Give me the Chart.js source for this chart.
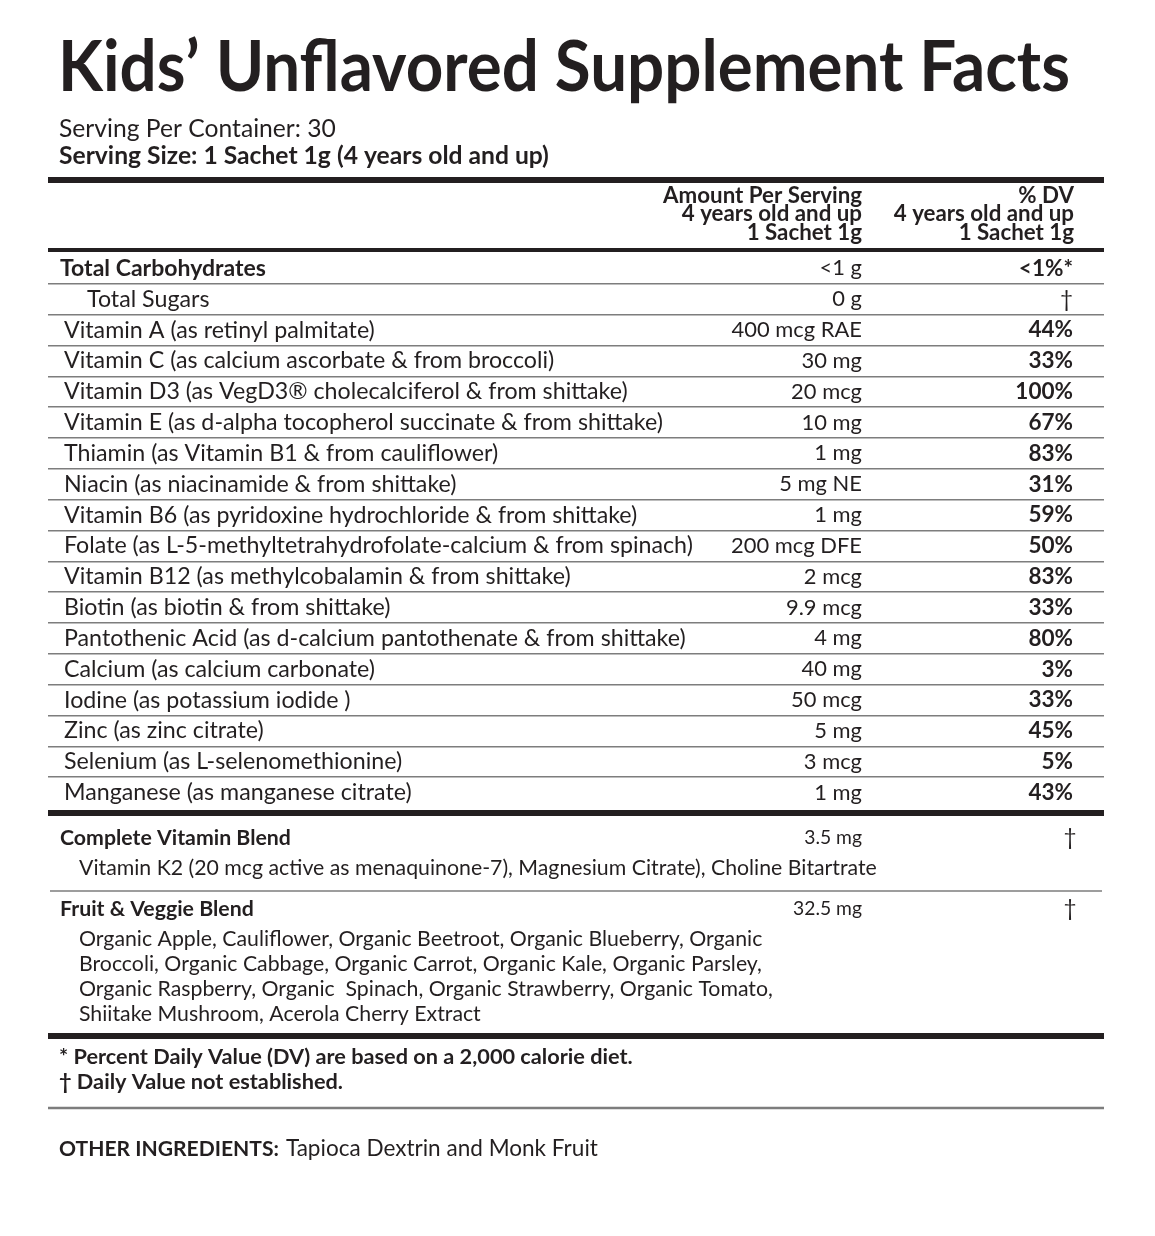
<!DOCTYPE html>
<html><head><meta charset="utf-8">
<script src="https://cdn.jsdelivr.net/npm/chart.js@4"></script>
<style>html,body{margin:0;padding:0;background:#fff}canvas{display:block}</style>
</head><body>
<canvas id="c" width="1155" height="1236"></canvas>
<script>
// ---------- DATA ----------
const title = "Kids\u2019 Unflavored Supplement Facts";
const servingPerContainer = "Serving Per Container: 30";
const servingSize = "Serving Size: 1 Sachet 1g (4 years old and up)";
const amountHeader = ["Amount Per Serving", "4 years old and up", "1 Sachet 1g"];
const dvHeader = ["% DV", "4 years old and up", "1 Sachet 1g"];

const nutrients = [
  "Total Carbohydrates",
  "Total Sugars",
  "Vitamin A (as retinyl palmitate)",
  "Vitamin C (as calcium ascorbate & from broccoli)",
  "Vitamin D3 (as VegD3\u00AE cholecalciferol & from shittake)",
  "Vitamin E (as d-alpha tocopherol succinate & from shittake)",
  "Thiamin (as Vitamin B1 & from cauliflower)",
  "Niacin (as niacinamide & from shittake)",
  "Vitamin B6 (as pyridoxine hydrochloride & from shittake)",
  "Folate (as L-5-methyltetrahydrofolate-calcium & from spinach)",
  "Vitamin B12 (as methylcobalamin & from shittake)",
  "Biotin (as biotin & from shittake)",
  "Pantothenic Acid (as d-calcium pantothenate & from shittake)",
  "Calcium (as calcium carbonate)",
  "Iodine (as potassium iodide )",
  "Zinc (as zinc citrate)",
  "Selenium (as L-selenomethionine)",
  "Manganese (as manganese citrate)"
];
const amounts = ["<1 g", "0 g", "400 mcg RAE", "30 mg", "20 mcg", "10 mg", "1 mg", "5 mg NE", "1 mg",
  "200 mcg DFE", "2 mcg", "9.9 mcg", "4 mg", "40 mg", "50 mcg", "5 mg", "3 mcg", "1 mg"];
const dailyValues = ["<1%*", "\u2020", "44%", "33%", "100%", "67%", "83%", "31%", "59%",
  "50%", "83%", "33%", "80%", "3%", "33%", "45%", "5%", "43%"];

const blendNames = ["Complete Vitamin Blend", "Fruit & Veggie Blend"];
const blendAmounts = ["3.5 mg", "32.5 mg"];
const blendDV = ["\u2020", "\u2020"];
const blendIngredients = [
  ["Vitamin K2 (20 mcg active as menaquinone-7), Magnesium Citrate), Choline Bitartrate"],
  ["Organic Apple, Cauliflower, Organic Beetroot, Organic Blueberry, Organic",
   "Broccoli, Organic Cabbage, Organic Carrot, Organic Kale, Organic Parsley,",
   "Organic Raspberry, Organic  Spinach, Organic Strawberry, Organic Tomato,",
   "Shiitake Mushroom, Acerola Cherry Extract"]
];
const footnotes = ["* Percent Daily Value (DV) are based on a 2,000 calorie diet.",
                   "\u2020 Daily Value not established."];
const otherLabel = "OTHER INGREDIENTS:";
const otherText = "Tapioca Dextrin and Monk Fruit";

// ---------- STYLE ----------
const INK = "#231f20";
const RULE = "#7d7d7d";
const FAM = "Lato, 'Open Sans', sans-serif";

const canvas = document.getElementById('c');
const mctx = canvas.getContext('2d');
function fit(text, weight, target) {
  mctx.font = weight + " 100px " + FAM;
  return 100 * target / mctx.measureText(text).width;
}
const S = {
  title: fit(title, 700, 1012),
  body: fit(nutrients[9], 400, 629),
  bodyBold: fit(nutrients[0], 700, 206),
  amount: fit(amounts[9], 400, 131),
  header: fit(amountHeader[0], 700, 199),
  serv: fit(servingPerContainer, 400, 277),
  servBold: fit(servingSize, 700, 490),
  blendName: fit(blendNames[0], 700, 231),
  blendAmt: fit(blendAmounts[1], 400, 69),
  ingr: fit(blendIngredients[0][0], 400, 798),
  foot: fit(footnotes[0], 700, 574),
  otherB: fit(otherLabel, 700, 220),
  other: fit(otherText, 400, 312)
};
S.dv = S.body * 0.97;
function f(w, s) { return w + " " + s.toFixed(2) + "px " + FAM; }

const X_NAME = 64, X_AMT = 862, X_DV = 1073, X_LEFT = 48, X_RIGHT = 1104;
const ROWS_TOP = 253, ROWS_BOTTOM = 808;

function hline(c, y, w, color, x0, x1) {
  c.save(); c.strokeStyle = color; c.lineWidth = w;
  c.beginPath(); c.moveTo(x0 ?? X_LEFT, y); c.lineTo(x1 ?? X_RIGHT, y); c.stroke(); c.restore();
}
function txt(c, s, x, y, font, align) {
  c.font = font; c.textAlign = align || 'left'; c.fillText(s, x, y);
}

const tablePlugin = {
  id: 'supplementTable',
  afterDraw(chart) {
    const c = chart.ctx, ys = chart.scales.y;
    c.save();
    c.fillStyle = INK; c.textBaseline = 'middle';
    // title + serving info
    c.save();
    c.translate(58, 68); c.scale(1, 1.08);
    txt(c, title, 0, 0, f(700, S.title));
    c.restore();
    txt(c, servingPerContainer, 59, 129, f(400, S.serv));
    txt(c, servingSize, 59, 156, f(700, S.servBold));
    hline(c, 180, 6, INK, X_LEFT, X_RIGHT);
    // column headers
    const hy = [196, 214, 233];
    amountHeader.forEach((s, i) => txt(c, s, X_AMT, hy[i], f(700, S.header), 'right'));
    dvHeader.forEach((s, i) => txt(c, s, X_DV + 1, hy[i], f(700, S.header), 'right'));
    hline(c, 250, 4, INK, X_LEFT, X_RIGHT);
    // nutrient rows positioned by the category scale
    nutrients.forEach((name, i) => {
      const y = ys.getPixelForValue(i);
      if (i === 0) txt(c, name, 60, y, f(700, S.bodyBold));
      else if (i === 1) txt(c, name, 87, y, f(400, S.body));
      else txt(c, name, X_NAME, y, f(400, S.body));
      txt(c, amounts[i], X_AMT, y, f(400, S.amount), 'right');
      const dv = dailyValues[i];
      txt(c, dv, X_DV, y, f(dv === "\u2020" ? 400 : 700, S.dv), 'right');
    });
    hline(c, 813, 6, INK, X_LEFT, X_RIGHT);
    // blends
    const blendTop = [838, 909];
    blendNames.forEach((name, b) => {
      const y = blendTop[b];
      txt(c, name, 60, y, f(700, S.blendName));
      txt(c, blendAmounts[b], X_AMT, y, f(400, S.blendAmt), 'right');
      txt(c, blendDV[b], 1070, y, f(400, S.dv), 'center');
      blendIngredients[b].forEach((line, k) => {
        txt(c, line, 79, y + 30 + k * 25, f(400, S.ingr));
      });
    });
    hline(c, 891, 1.5, RULE, 50, 1102);
    hline(c, 1036, 6, INK, X_LEFT, X_RIGHT);
    // footnotes
    footnotes.forEach((s, i) => txt(c, s, 59, 1057 + i * 25, f(700, S.foot)));
    hline(c, 1108, 2.5, RULE, X_LEFT, X_RIGHT);
    // other ingredients
    c.font = f(700, S.otherB); c.textAlign = 'left';
    c.fillText(otherLabel, 59, 1149);
    const w = c.measureText(otherLabel).width;
    txt(c, otherText, 59 + w + 7, 1149, f(400, S.other));
    c.restore();
  }
};

new Chart(canvas, {
  type: 'bar',
  data: { labels: nutrients, datasets: [] },
  options: {
    responsive: false,
    animation: false,
    indexAxis: 'y',
    layout: { padding: { top: ROWS_TOP, bottom: 1236 - ROWS_BOTTOM, left: X_LEFT, right: 1155 - X_RIGHT } },
    plugins: { legend: { display: false }, tooltip: { enabled: false }, title: { display: false } },
    scales: {
      x: { display: false },
      y: {
        type: 'category',
        offset: true,
        border: { display: false },
        ticks: { display: false },
        grid: {
          offset: true,
          drawTicks: false,
          color: (ctx) => (ctx.type !== 'tick' || ctx.index === 0) ? 'rgba(0,0,0,0)' : RULE,
          lineWidth: (ctx) => (ctx.type !== 'tick' || ctx.index === 0) ? 0 : 1.5
        }
      }
    }
  },
  plugins: [tablePlugin]
});
</script>
</body></html>
